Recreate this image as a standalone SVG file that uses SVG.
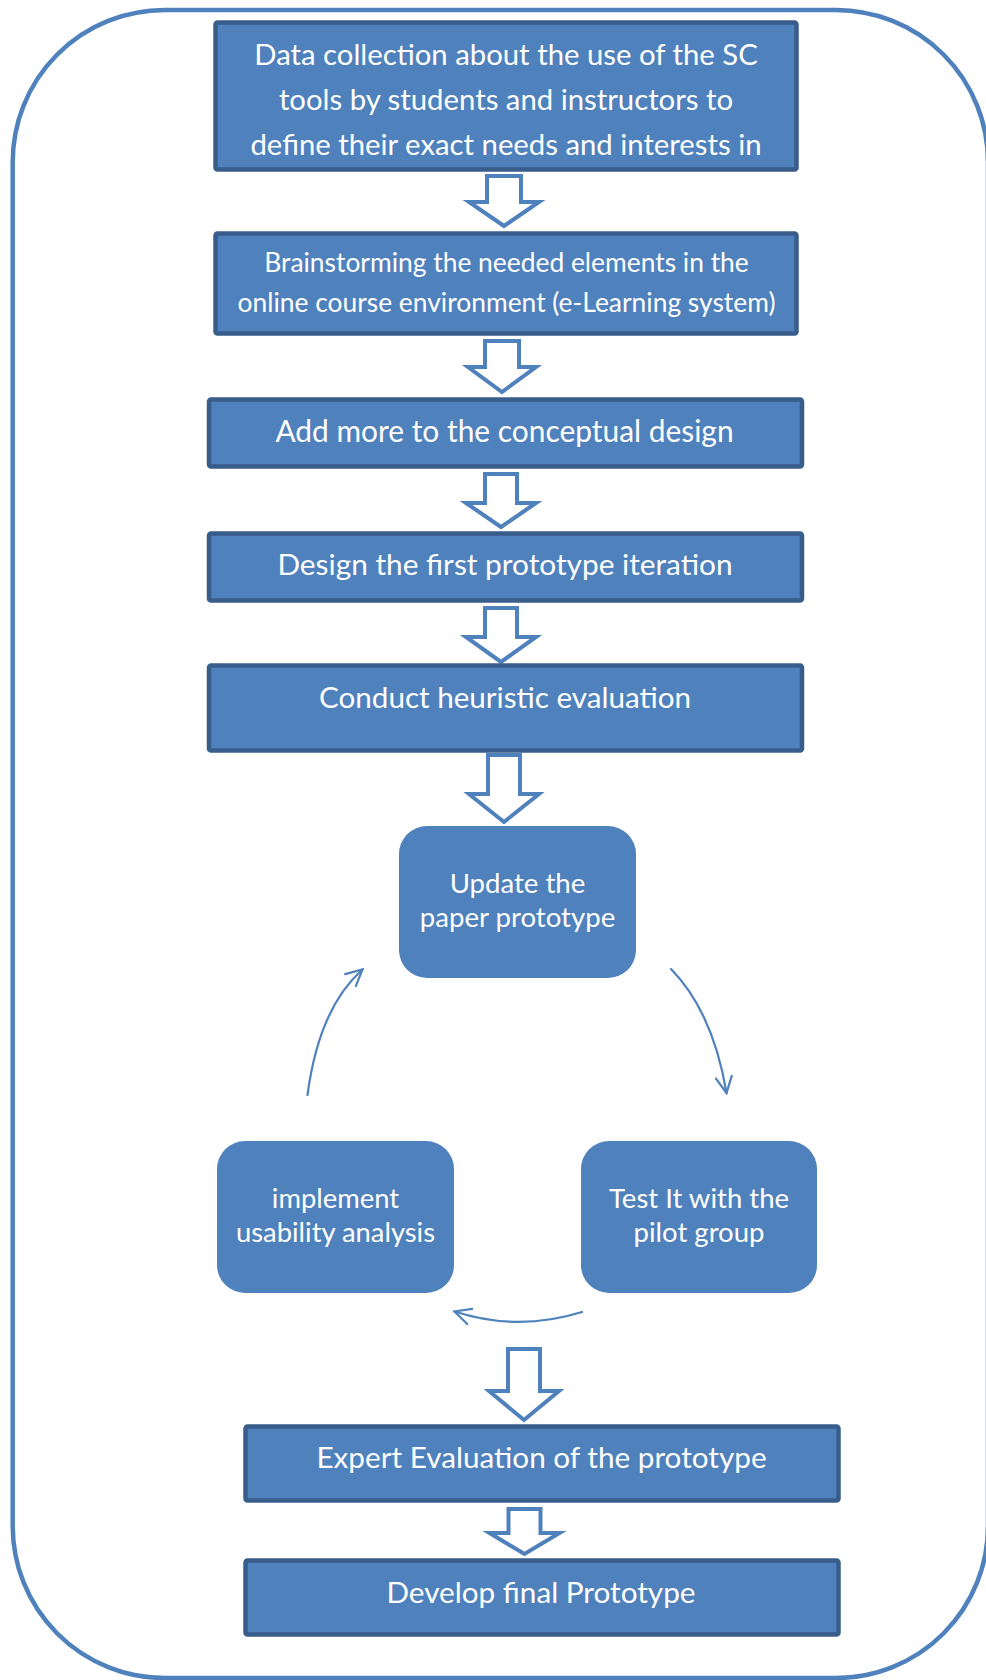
<svg xmlns="http://www.w3.org/2000/svg" width="986" height="1680" viewBox="0 0 986 1680">
  <defs>
    <style>
      .frame { fill: none; stroke: #4f81bd; stroke-width: 4.5; }
      .step { fill: #4f81bd; stroke: #385d8a; stroke-width: 4.5; }
      .phase { fill: #4f81bd; stroke: none; }
      .block { fill: #ffffff; stroke: #4f81bd; stroke-width: 4; stroke-linejoin: miter; }
      .flow { fill: none; stroke: #4f81bd; stroke-width: 2.2; stroke-linecap: round; }
      .label { fill: #ffffff; font-family: Lato, Carlito, "Liberation Sans", sans-serif; text-anchor: middle; }
    </style>
    <marker id="open-head" viewBox="0 0 20 20" refX="18" refY="10" markerWidth="20" markerHeight="20" markerUnits="userSpaceOnUse" orient="auto">
      <path d="M2,2 L18,10 L2,18" fill="none" stroke="#4f81bd" stroke-width="2.2" stroke-linecap="round"/>
    </marker>
  </defs>

  <!-- outer rounded frame -->
  <rect class="frame" x="12.7" y="10" width="975.3" height="1668" rx="152" ry="152"/>

  <!-- connectors -->
  <g id="connectors">
    <polygon class="block" points="487,176 521,176 521,202 539,202 504,226 469,202 487,202"/>
    <polygon class="block" points="485,341 519,341 519,367 536,367 502,392 468,367 485,367"/>
    <polygon class="block" points="485,474 517,474 517,503 536,503 501,527 466,503 485,503"/>
    <polygon class="block" points="485,608 517,608 517,637 536,637 501,662 466,637 485,637"/>
    <polygon class="block" points="488,755 520,755 520,794 539,794 504,822 469,794 488,794"/>
    <polygon class="block" points="508,1349 540,1349 540,1391 559,1391 524,1420 489,1391 508,1391"/>
    <polygon class="block" points="508.5,1509 540.5,1509 540.5,1533 559.5,1533 524.5,1554 489.5,1533 508.5,1533"/>
    <path class="flow" d="M307.5,1095 Q319,1008 362.5,969.5" marker-end="url(#open-head)"/>
    <path class="flow" d="M671,969 Q713,1012 726.5,1093" marker-end="url(#open-head)"/>
    <path class="flow" d="M582,1312 Q518,1332 454.5,1311.5" marker-end="url(#open-head)"/>
  </g>

  <!-- process steps -->
  <g id="node-data-collection">
    <rect class="step" x="215.5" y="22.5" width="581" height="147" rx="2"/>
    <text class="label" font-size="29.3" x="506" y="65">Data collection about the use of the SC</text>
    <text class="label" font-size="29.3" x="506" y="110">tools by students and instructors to</text>
    <text class="label" font-size="29.3" x="506" y="155">define their exact needs and interests in</text>
  </g>
  <g id="node-brainstorming">
    <rect class="step" x="215.5" y="233.5" width="581" height="100" rx="2"/>
    <text class="label" font-size="26.4" x="506.5" y="272">Brainstorming the needed elements in the</text>
    <text class="label" font-size="26.4" x="506.5" y="312">online course environment (e-Learning system)</text>
  </g>
  <g id="node-conceptual-design">
    <rect class="step" x="209" y="399.5" width="593" height="67" rx="2"/>
    <text class="label" font-size="29.9" x="504.5" y="442">Add more to the conceptual design</text>
  </g>
  <g id="node-first-prototype">
    <rect class="step" x="209" y="533.5" width="593" height="67" rx="2"/>
    <text class="label" font-size="29.8" x="505" y="575">Design the first prototype iteration</text>
  </g>
  <g id="node-heuristic-evaluation">
    <rect class="step" x="209" y="665.5" width="593" height="85" rx="2"/>
    <text class="label" font-size="29.6" x="505" y="708">Conduct heuristic evaluation</text>
  </g>

  <!-- iteration cycle -->
  <g id="node-update-paper">
    <rect class="phase" x="399" y="826" width="237" height="152" rx="28" ry="28"/>
    <text class="label" font-size="27.6" x="517.5" y="893">Update the</text>
    <text class="label" font-size="27.6" x="517.5" y="927">paper prototype</text>
  </g>
  <g id="node-usability-analysis">
    <rect class="phase" x="217" y="1141" width="237" height="152" rx="28" ry="28"/>
    <text class="label" font-size="27.4" x="335.5" y="1208">implement</text>
    <text class="label" font-size="27.4" x="335.5" y="1242">usability analysis</text>
  </g>
  <g id="node-pilot-test">
    <rect class="phase" x="581" y="1141" width="236" height="152" rx="28" ry="28"/>
    <text class="label" font-size="27.5" x="699" y="1208">Test It with the</text>
    <text class="label" font-size="27.5" x="699" y="1242">pilot group</text>
  </g>

  <!-- final steps -->
  <g id="node-expert-evaluation">
    <rect class="step" x="245.5" y="1426.5" width="593" height="74" rx="2"/>
    <text class="label" font-size="29.7" x="541.5" y="1468">Expert Evaluation of the prototype</text>
  </g>
  <g id="node-final-prototype">
    <rect class="step" x="245.5" y="1560.5" width="593" height="74" rx="2"/>
    <text class="label" font-size="29.7" x="541" y="1603">Develop final Prototype</text>
  </g>
</svg>
